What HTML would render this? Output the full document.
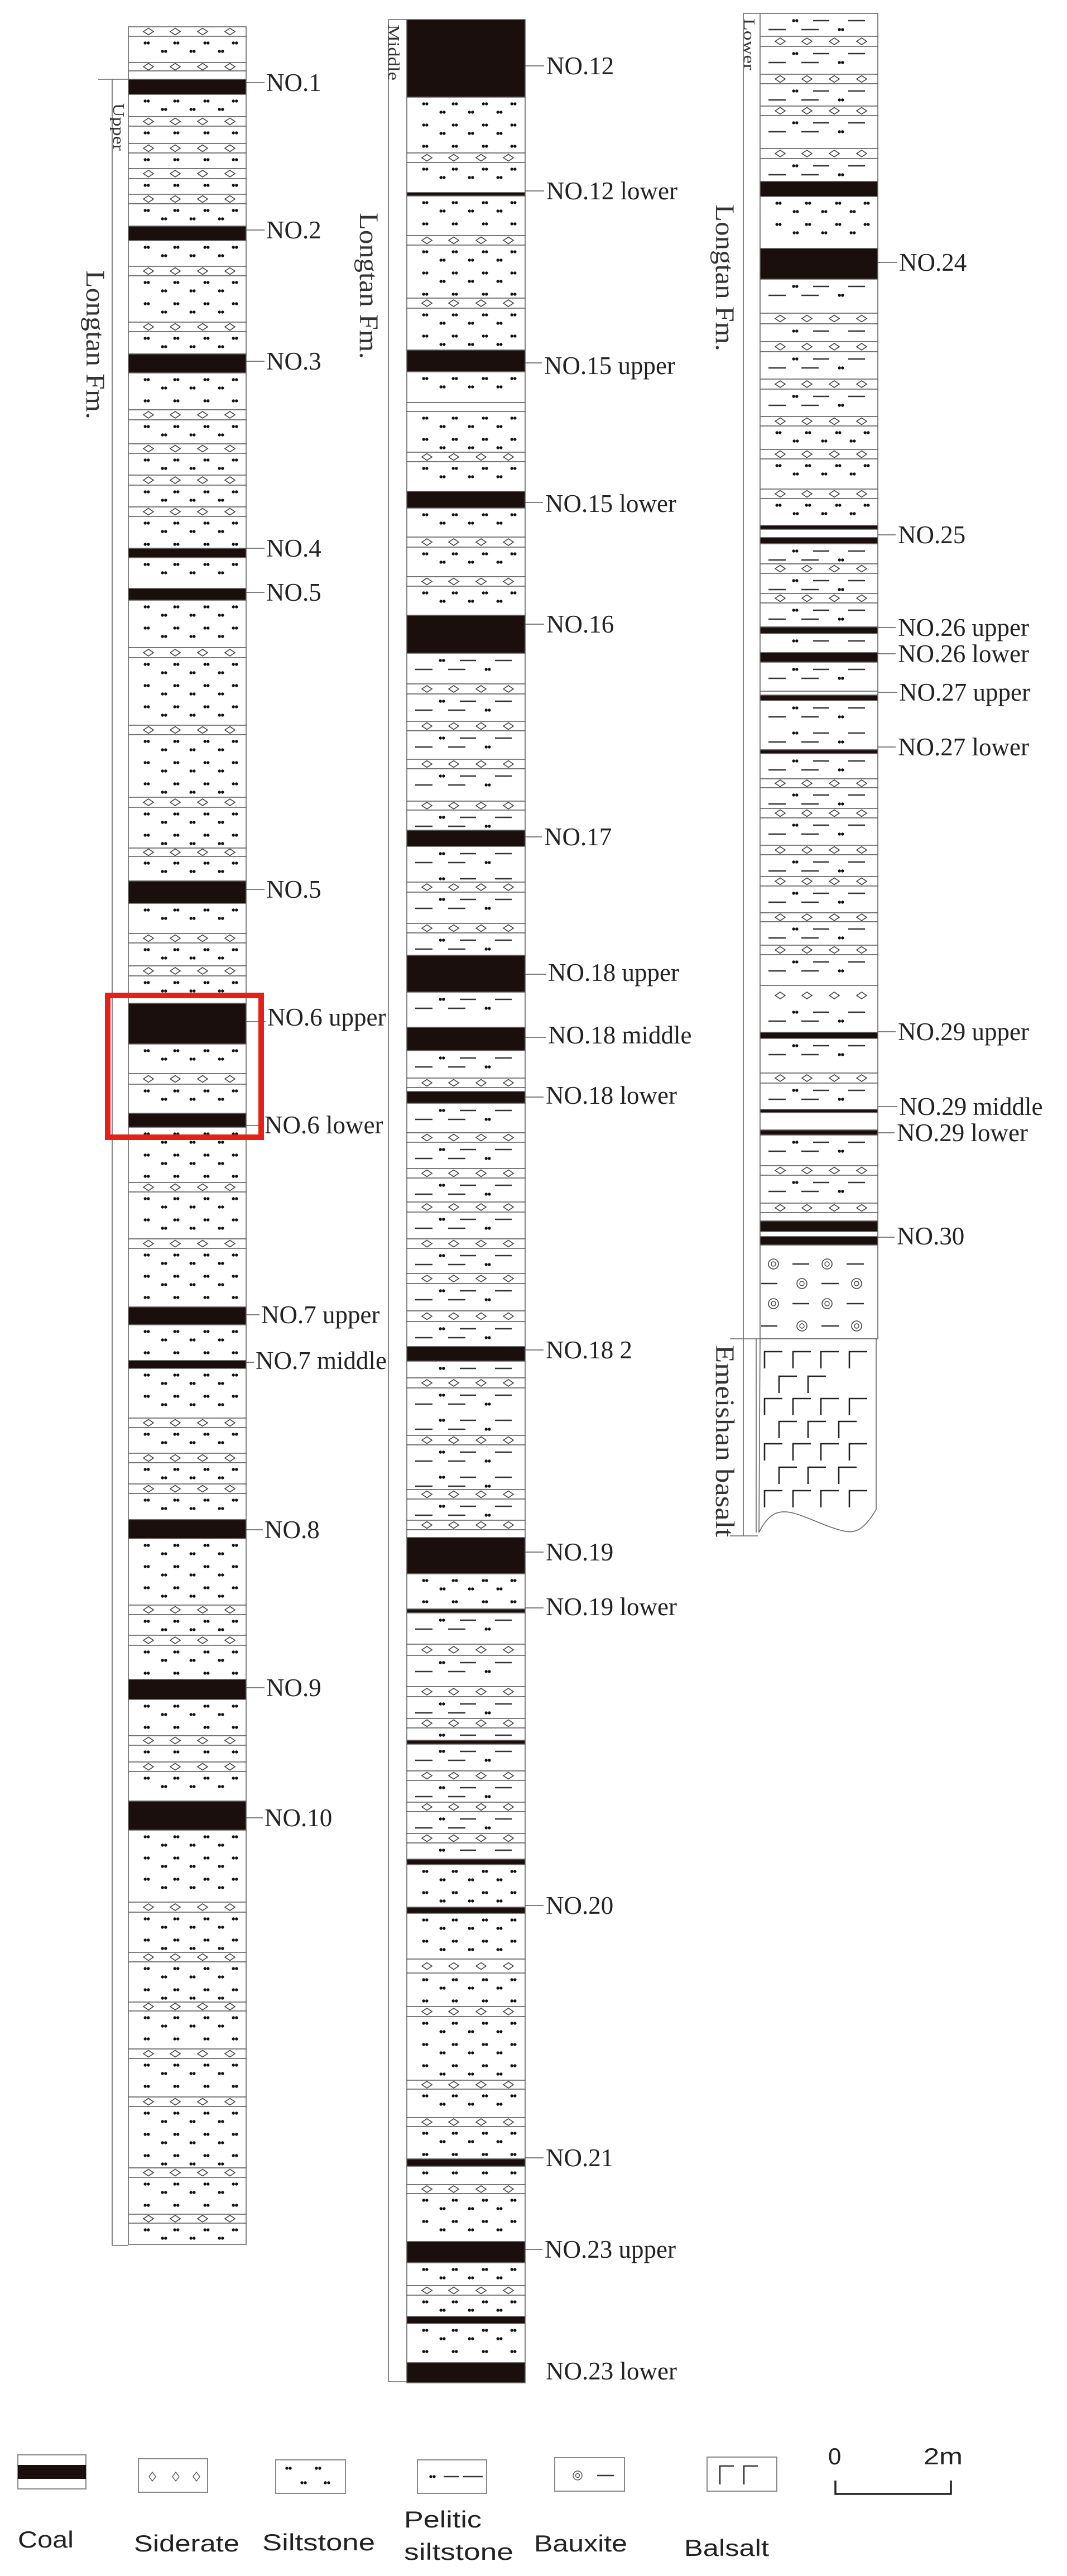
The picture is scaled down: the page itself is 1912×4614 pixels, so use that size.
<!DOCTYPE html>
<html><head><meta charset="utf-8">
<style>
html,body{margin:0;padding:0;background:#fff;}
svg{display:block;}
.lb{font-family:"Liberation Serif",serif;font-size:45px;fill:#222;}
.lg{font-family:"Liberation Sans",sans-serif;font-size:42px;fill:#222;}
.rt{font-family:"Liberation Serif",serif;fill:#333;}
</style></head>
<body>
<svg id="s" width="1912" height="4614" viewBox="0 0 1912 4614" xmlns="http://www.w3.org/2000/svg">
<g id="layers"></g>
<g stroke="#666" stroke-width="1.6" fill="none">
<line x1="176" y1="142" x2="230" y2="142"/>
<line x1="201" y1="142" x2="201" y2="4022"/>
<line x1="201" y1="4022" x2="230" y2="4022"/>
<line x1="696" y1="35" x2="729" y2="35"/>
<line x1="696" y1="35" x2="696" y2="4266"/>
<line x1="696" y1="4266" x2="729" y2="4266"/>
<line x1="1332" y1="24" x2="1362" y2="24"/>
<line x1="1332" y1="24" x2="1332" y2="2751"/>
<line x1="1308" y1="2398" x2="1362" y2="2398"/>
<line x1="1308" y1="2751" x2="1358" y2="2751"/>
<line x1="1355" y1="2398" x2="1355" y2="2745"/>
</g>
<path d="M1362,2398 L1570,2398 L1570,2704 C1545,2745 1530,2748 1503,2740 C1460,2728 1420,2700 1392,2710 C1375,2716 1365,2735 1360,2745 Z" fill="#fff" stroke="#666" stroke-width="1.6"/>
<g id="basalt" stroke="#222" stroke-width="2.6" fill="none"></g>

<text class="rt" font-size="48" transform="translate(155,484) rotate(90)" textLength="267" lengthAdjust="spacingAndGlyphs">Longtan Fm.</text>
<text class="rt" font-size="48" transform="translate(645,381) rotate(90)" textLength="262" lengthAdjust="spacingAndGlyphs">Longtan Fm.</text>
<text class="rt" font-size="48" transform="translate(1283,366) rotate(90)" textLength="263" lengthAdjust="spacingAndGlyphs">Longtan Fm.</text>
<text class="rt" font-size="28" transform="translate(203,185) rotate(90)" textLength="85" lengthAdjust="spacingAndGlyphs">Upper</text>
<text class="rt" font-size="28" transform="translate(696,44) rotate(90)" textLength="100" lengthAdjust="spacingAndGlyphs">Middle</text>
<text class="rt" font-size="28" transform="translate(1333,33) rotate(90)" textLength="93" lengthAdjust="spacingAndGlyphs">Lower</text>
<text class="rt" font-size="48" transform="translate(1283,2409) rotate(90)" textLength="344" lengthAdjust="spacingAndGlyphs">Emeishan basalt</text>

<g id="ticks" stroke="#555" stroke-width="1.6"></g>

<text class="lb" x="477" y="163">NO.1</text>
<text class="lb" x="477" y="427">NO.2</text>
<text class="lb" x="477" y="662">NO.3</text>
<text class="lb" x="477" y="997">NO.4</text>
<text class="lb" x="477" y="1076">NO.5</text>
<text class="lb" x="477" y="1608">NO.5</text>
<text class="lb" x="479" y="1837">NO.6 upper</text>
<text class="lb" x="474" y="2030" font-size="49">NO.6 lower</text>
<text class="lb" x="468" y="2370">NO.7 upper</text>
<text class="lb" x="458" y="2452">NO.7 middle</text>
<text class="lb" x="474" y="2755">NO.8</text>
<text class="lb" x="477" y="3038">NO.9</text>
<text class="lb" x="474" y="3271">NO.10</text>
<text class="lb" x="979" y="133">NO.12</text>
<text class="lb" x="979" y="357">NO.12 lower</text>
<text class="lb" x="975" y="670">NO.15 upper</text>
<text class="lb" x="977" y="917">NO.15 lower</text>
<text class="lb" x="979" y="1133">NO.16</text>
<text class="lb" x="975" y="1514">NO.17</text>
<text class="lb" x="982" y="1757">NO.18 upper</text>
<text class="lb" x="982" y="1869">NO.18 middle</text>
<text class="lb" x="978" y="1977">NO.18 lower</text>
<text class="lb" x="978" y="2433">NO.18 2</text>
<text class="lb" x="978" y="2795">NO.19</text>
<text class="lb" x="978" y="2893">NO.19 lower</text>
<text class="lb" x="978" y="3428">NO.20</text>
<text class="lb" x="978" y="3880">NO.21</text>
<text class="lb" x="976" y="4044">NO.23 upper</text>
<text class="lb" x="978" y="4262">NO.23 lower</text>
<text class="lb" x="1611" y="485">NO.24</text>
<text class="lb" x="1609" y="973">NO.25</text>
<text class="lb" x="1609" y="1139">NO.26 upper</text>
<text class="lb" x="1609" y="1186">NO.26 lower</text>
<text class="lb" x="1611" y="1255">NO.27 upper</text>
<text class="lb" x="1609" y="1353">NO.27 lower</text>
<text class="lb" x="1609" y="1863">NO.29 upper</text>
<text class="lb" x="1611" y="1997">NO.29 middle</text>
<text class="lb" x="1607" y="2044">NO.29 lower</text>
<text class="lb" x="1607" y="2229">NO.30</text>

<rect x="193" y="1783" width="275" height="254" fill="none" stroke="#e32119" stroke-width="10"/>

<g stroke="#888" stroke-width="2" fill="#fff">
<rect x="32" y="4397" width="122" height="61"/>
<rect x="248" y="4404" width="124" height="60"/>
<rect x="494" y="4406" width="125" height="60"/>
<rect x="748" y="4406" width="124" height="60"/>
<rect x="994" y="4402" width="125" height="60"/>
<rect x="1267" y="4401" width="125" height="61"/>
</g>
<rect x="32" y="4415" width="122" height="25" fill="#1a0f0d"/>
<g stroke="#555" stroke-width="1.4" fill="none">
<path d="M267,4436 l6,-8 l6,8 l-6,8 z M309,4436 l6,-8 l6,8 l-6,8 z M346,4436 l6,-8 l6,8 l-6,8 z"/>
<circle cx="1035" cy="4434" r="8"/><circle cx="1035" cy="4434" r="3.5"/>
</g>
<g fill="#111">
<circle cx="514" cy="4421" r="2.7"/><circle cx="520" cy="4421" r="2.7"/>
<circle cx="567" cy="4421" r="2.7"/><circle cx="573" cy="4421" r="2.7"/>
<circle cx="541" cy="4447" r="2.7"/><circle cx="547" cy="4447" r="2.7"/>
<circle cx="583" cy="4447" r="2.7"/><circle cx="589" cy="4447" r="2.7"/>
<circle cx="772" cy="4436" r="2.7"/><circle cx="778" cy="4436" r="2.7"/>
</g>
<g stroke="#333" stroke-width="2.6" fill="none">
<line x1="795" y1="4436" x2="822" y2="4436"/><line x1="830" y1="4436" x2="865" y2="4436"/>
<line x1="1070" y1="4434" x2="1100" y2="4434"/>
<path d="M1290,4450 V4417 H1315 M1333,4450 V4417 H1358"/>
<path d="M1497,4443 V4467 H1704 V4443" stroke="#222" stroke-width="3.5"/>
</g>
<text class="lg" x="1484" y="4414" font-size="40">0</text>
<text class="lg" x="1655" y="4414" font-size="40" textLength="70" lengthAdjust="spacingAndGlyphs">2m</text>
<text class="lg" x="32" y="4563" textLength="100" lengthAdjust="spacingAndGlyphs">Coal</text>
<text class="lg" x="240" y="4570" textLength="189" lengthAdjust="spacingAndGlyphs">Siderate</text>
<text class="lg" x="470" y="4568" textLength="202" lengthAdjust="spacingAndGlyphs">Siltstone</text>
<text class="lg" x="724" y="4527" textLength="139" lengthAdjust="spacingAndGlyphs">Pelitic</text>
<text class="lg" x="724" y="4585" textLength="196" lengthAdjust="spacingAndGlyphs">siltstone</text>
<text class="lg" x="957" y="4570" textLength="167" lengthAdjust="spacingAndGlyphs">Bauxite</text>
<text class="lg" x="1226" y="4578" textLength="152" lengthAdjust="spacingAndGlyphs">Balsalt</text>
</svg>
<script>
(function(){
var NS="http://www.w3.org/2000/svg";
var L=document.getElementById("layers");
function el(n,a,p){var e=document.createElementNS(NS,n);for(var k in a)e.setAttribute(k,a[k]);(p||L).appendChild(e);return e;}
var cols=[
{x:230,w:211,start:48,spec:"d65 s112 d127 s142 c169 s209 d226 s257 d274 s302 d320 s348 d365 s405 c431 s477 d494 s577 d594 s634 c668 s734 d752 s795 d812 s851 d869 s908 d925 s982 c999 s1054 c1075 s1160 d1178 s1299 d1316 s1428 d1446 s1519 d1534 s1578 c1618 s1672 d1689 s1730 d1748 s1797 c1870 s1923 d1942 s1994 c2019 s2118 d2135 s2219 d2236 s2341 c2373 s2437 c2451 s2540 d2557 s2603 d2620 s2658 d2675 s2722 c2756 s2875 d2892 s2929 d2947 s3008 c3044 s3109 d3126 s3156 d3173 s3226 c3278 s3407 d3425 s3497 d3514 s3586 d3602 s3670 d3687 s3756 d3773 s3883 d3900 s3966 d3982 s4020"},
{x:729,w:212,start:35,spec:"c174 s274 d291 s345 c351 s422 d439 s534 d552 s627 c666 s721 w737 s810 d827 s880 c910 s962 d980 s1033 d1050 s1102 c1170 p1225 d1243 p1292 d1309 p1360 d1377 p1435 d1451 p1487 c1516 p1580 d1598 p1654 d1671 p1711 c1777 p1840 c1882 p1931 d1948 p1955 c1976 p2029 d2046 p2093 d2110 p2153 d2171 p2219 d2236 p2281 d2299 p2348 d2367 p2412 c2438 p2468 d2486 p2571 d2588 p2668 d2685 p2723 d2740 w2754 c2819 s2882 c2889 p2945 d2965 p3021 d3039 p3078 d3095 p3117 c3124 p3172 d3189 p3228 d3245 p3284 d3301 p3330 c3340 s3416 c3427 s3509 d3534 s3594 d3612 s3726 d3742 s3793 d3809 s3867 c3880 s3913 d3929 s4015 c4053 s4094 d4111 s4149 c4162 s4232 c4268"},
{x:1362,w:211,start:24,spec:"p65 d83 p133 d150 p190 d207 p266 d284 p325 c352 s445 c500 p561 d580 p612 d630 p679 d697 p746 d763 s805 d822 s876 d893 s941 c948 w963 c974 p1010 d1027 p1063 d1080 p1123 c1135 p1169 c1186 p1238 w1245 c1255 p1343 c1350 p1395 d1411 p1448 d1465 p1514 d1531 p1570 d1587 p1635 d1651 p1693 d1710 p1765 x1849 c1860 p1922 d1940 p1987 c1993 w2024 c2033 p2088 d2105 p2155 d2172 w2187 c2206 w2215 c2230 b2398"}
];
function pair(x,y){el("circle",{cx:x-2.8,cy:y,r:2.7,fill:"#111"});el("circle",{cx:x+2.8,cy:y,r:2.7,fill:"#111"});}
function dash(x1,x2,y){el("line",{x1:x1,y1:y,x2:x2,y2:y,stroke:"#333","stroke-width":2.6});}
function diam(x,y){el("path",{d:"M"+(x-9)+","+y+" L"+x+","+(y-6)+" L"+(x+9)+","+y+" L"+x+","+(y+6)+" Z",fill:"none",stroke:"#444","stroke-width":1.6});}
var A=[33,86,140,191],B=[64,115,166];
function silt(c,t,b){var offs=[12,27];for(var base=0;;base+=38){for(var i=0;i<2;i++){var y=t+base+offs[i];if(y>b-7)return;(i==0?A:B).forEach(function(o){pair(c.x+o,y);});}}}
function pelRow(c,y,k){if(k==0){pair(c.x+63,y);dash(c.x+95,c.x+124,y);dash(c.x+158,c.x+188,y);}else{dash(c.x+15,c.x+46,y);dash(c.x+74,c.x+105,y);pair(c.x+145,y);}}
function pel(c,t,b){var offs=[13,29];for(var base=0;;base+=45){for(var i=0;i<2;i++){var y=t+base+offs[i];if(y>b-6)return;pelRow(c,y,i);}}}
function sid(c,t,b){var m=(t+b)/2;[36,84,133,182].forEach(function(o){diam(c.x+o,m);});}
function circ(x,y){el("circle",{cx:x,cy:y,r:9,fill:"none",stroke:"#444","stroke-width":1.6});el("circle",{cx:x,cy:y,r:4,fill:"none",stroke:"#444","stroke-width":1.4});}
cols.forEach(function(c){
 var toks=c.spec.split(" "),prev=c.start;
 toks.forEach(function(tk){
  var ty=tk[0],end=parseFloat(tk.slice(1)),t=prev,b=end;
  el("rect",{x:c.x,y:t,width:c.w,height:b-t,fill:ty=="c"?"#1a0f0d":"#fff",stroke:"#666","stroke-width":1.6});
  if(ty=="s")silt(c,t,b);
  else if(ty=="p")pel(c,t,b);
  else if(ty=="d")sid(c,t,b);
  else if(ty=="x"){[36,84,133,182].forEach(function(o){diam(c.x+o,t+18);});pelRow(c,t+48,0);pelRow(c,t+64,1);}
  else if(ty=="b"){
   var ys=[2264,2299,2335,2375];
   ys.forEach(function(y,i){
    if(i%2==0){circ(1386,y);dash(1420,1450,y);circ(1482,y);dash(1517,1548,y);}
    else{dash(1364,1393,y);circ(1437,y);dash(1472,1503,y);circ(1535,y);}
   });
  }
  prev=end;
 });
});
var G=document.getElementById("basalt");
var rows=[2421,2465,2505,2546,2586,2628,2670];
rows.forEach(function(y,i){
 var xs=(i%2==0)?[1370,1421,1471,1522]:(i==1?[1396,1448]:[1396,1448,1503]);
 xs.forEach(function(x){el("path",{d:"M"+x+","+(y+30)+" V"+y+" H"+(x+32)},G);});
});
var T=document.getElementById("ticks");
var tk=[[441,474,148],[441,474,412],[441,474,647],[441,474,982],[441,474,1061],[441,474,1593],[441,476,1830],[441,471,2016],[441,465,2355],[441,455,2440],[441,471,2740],[441,474,3023],[441,471,3256],
[941,975,118],[941,975,342],[941,971,650],[941,973,900],[941,975,1118],[941,971,1499],[941,978,1745],[941,978,1858],[941,974,1965],[941,974,2418],[941,974,2780],[941,974,2880],[941,974,3413],[941,974,3865],[941,972,4029],
[1573,1607,470],[1573,1605,958],[1573,1605,1124],[1573,1605,1171],[1573,1607,1240],[1573,1605,1338],[1573,1605,1848],[1573,1607,1982],[1573,1603,2029],[1573,1603,2216]];
tk.forEach(function(a){el("line",{x1:a[0],y1:a[2],x2:a[1],y2:a[2]},T);});
})();
</script>
</body></html>
